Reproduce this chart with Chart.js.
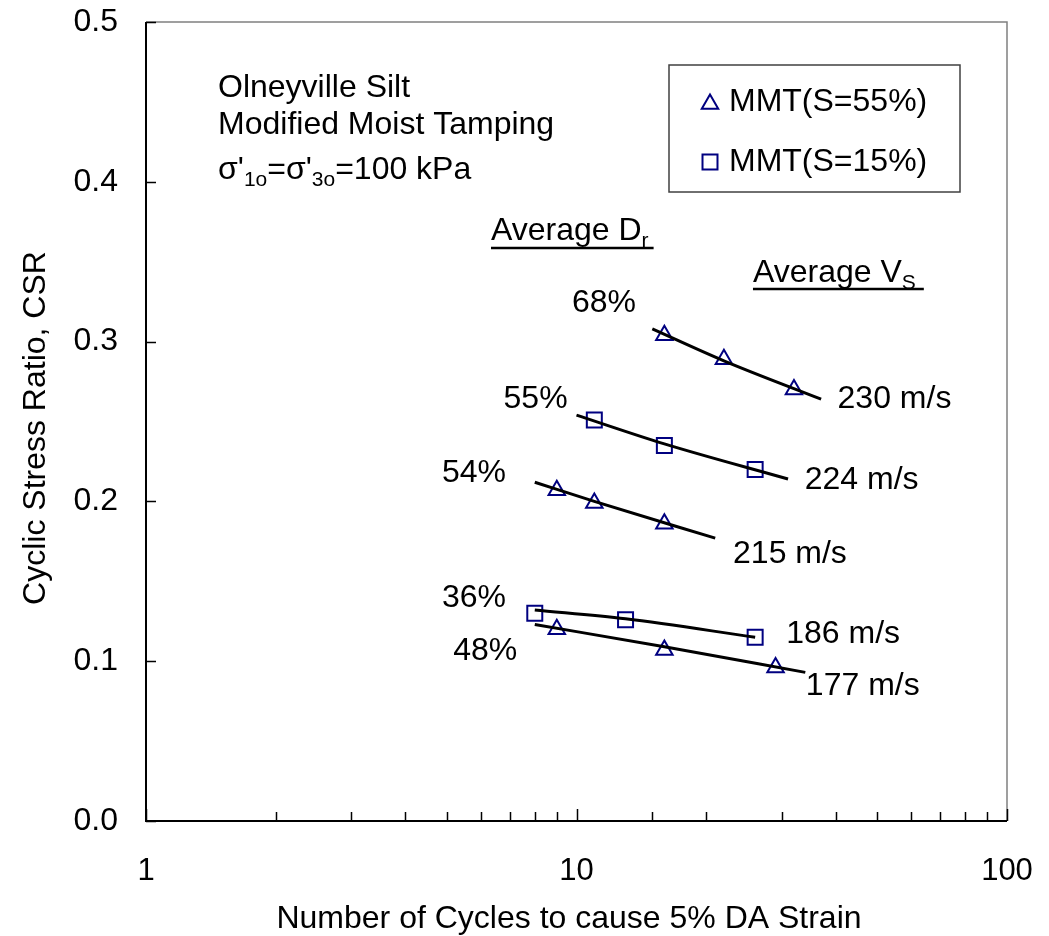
<!DOCTYPE html>
<html>
<head>
<meta charset="utf-8">
<title>Olneyville Silt - CSR vs cycles</title>
<script src="https://cdn.jsdelivr.net/npm/chart.js@4.4.0/dist/chart.umd.min.js"></script>
<style>
  html, body { margin: 0; padding: 0; background: #fff; }
</style>
</head>
<body>
<canvas id="csrChart" width="1049" height="936"></canvas>
<script>
// number of cycles to 5% DA strain (N) and cyclic stress ratio, per specimen group
const n68 = [16, 22, 32];
const csr68 = [0.304, 0.289, 0.270];
const n55 = [11, 16, 26];
const csr55 = [0.251, 0.235, 0.220];
const n54 = [9, 11, 16];
const csr54 = [0.207, 0.199, 0.186];
const n36 = [8, 13, 26];
const csr36 = [0.130, 0.126, 0.115];
const n48 = [9, 16, 29];
const csr48 = [0.120, 0.107, 0.096];

// trend lines through each group (start, middle, end)
const fit68N = [15, 22, 37];
const fit68CSR = [0.308, 0.288, 0.264];
const fit55N = [10, 16, 31];
const fit55CSR = [0.254, 0.236, 0.214];
const fit54N = [8, 11, 21];
const fit54CSR = [0.212, 0.200, 0.177];
const fit36N = [8, 13, 26];
const fit36CSR = [0.132, 0.1265, 0.115];
const fit48N = [8, 16, 34];
const fit48CSR = [0.123, 0.109, 0.093];

const legendLabels = ['MMT(S=55%)', 'MMT(S=15%)'];
const drLabels = ['68%', '55%', '54%', '36%', '48%'];
const vsLabels = ['230 m/s', '224 m/s', '215 m/s', '186 m/s', '177 m/s'];
const xTickLabels = [1, 10, 100];
const noteLines = ['Olneyville Silt', 'Modified Moist Tamping'];

// where the labels sit, in (N, CSR)
const drAt = [[9.76, 0.3185], [6.77, 0.2584], [4.87, 0.2121], [4.87, 0.1339], [5.17, 0.1008]];
const vsAt = [[40.4, 0.2584], [33.9, 0.2078], [23.1, 0.1615], [30.7, 0.1114], [34.1, 0.0788]];
const noteAt = [[1.47, 0.453], [1.47, 0.430], [1.47, 0.402]];
const drHeadAt = [6.33, 0.3636];
const vsHeadAt = [25.7, 0.3373];

const FONT = "'Liberation Sans', Arial, Helvetica, sans-serif";
const NAVY = '#000080';

function pts(xs, ys) {
    return xs.map((x, i) => ({x: x, y: ys[i]}));
}

function fitLine(xs, ys) {
    return {
        data: pts(xs, ys),
        showLine: true,
        borderColor: '#000',
        borderWidth: 3,
        pointRadius: 0,
        cubicInterpolationMode: 'monotone',
        order: 0
    };
}

// draws text made of normal and subscript pieces, returns end x
function richText(ctx, parts, x, y) {
    for (const p of parts) {
        ctx.font = (p.sub ? '21px ' : '32px ') + FONT;
        ctx.fillText(p.t, x, y + (p.sub ? 7 : 0));
        x += ctx.measureText(p.t).width;
    }
    return x;
}

function isDecade(v) {
    return xTickLabels.some(t => Math.abs(t - v) < 1e-6);
}

const decor = {
    id: 'decor',
    beforeDraw(chart) {
        const ctx = chart.ctx;
        ctx.save();
        ctx.fillStyle = '#fff';
        ctx.fillRect(0, 0, chart.width, chart.height);
        ctx.restore();
    },
    beforeDatasetsDraw(chart) {
        const ctx = chart.ctx;
        const a = chart.chartArea;
        const xs = chart.scales.x, ys = chart.scales.y;
        ctx.save();
        ctx.strokeStyle = '#808080';
        ctx.lineWidth = 1.5;
        ctx.beginPath();
        ctx.moveTo(a.left, a.top);
        ctx.lineTo(a.right, a.top);
        ctx.lineTo(a.right, a.bottom);
        ctx.stroke();

        ctx.strokeStyle = '#000';
        ctx.lineWidth = 2;
        ctx.beginPath();
        ctx.moveTo(a.left, a.top);
        ctx.lineTo(a.left, a.bottom);
        ctx.lineTo(a.right, a.bottom);
        ctx.stroke();

        // tick marks point into the plot
        ctx.lineWidth = 1.5;
        ctx.beginPath();
        xs.ticks.forEach(t => {
            const px = Math.round(xs.getPixelForValue(t.value)) + 0.5;
            const len = isDecade(t.value) ? 12 : 9;
            ctx.moveTo(px, a.bottom);
            ctx.lineTo(px, a.bottom - len);
        });
        ys.ticks.forEach(t => {
            const py = Math.round(ys.getPixelForValue(t.value)) + 0.5;
            ctx.moveTo(a.left, py);
            ctx.lineTo(a.left + 10, py);
        });
        ctx.stroke();
        ctx.restore();
    },
    afterDraw(chart) {
        const ctx = chart.ctx;
        const xs = chart.scales.x, ys = chart.scales.y;
        const px = v => xs.getPixelForValue(v);
        const py = v => ys.getPixelForValue(v);
        ctx.save();
        ctx.fillStyle = '#000';
        ctx.textBaseline = 'alphabetic';
        ctx.textAlign = 'left';
        ctx.font = '32px ' + FONT;

        noteLines.forEach((s, i) => ctx.fillText(s, px(noteAt[i][0]), py(noteAt[i][1])));
        richText(ctx, [
            {t: "σ'"}, {t: '1o', sub: true}, {t: "=σ'"}, {t: '3o', sub: true}, {t: '=100 kPa'}
        ], px(noteAt[2][0]), py(noteAt[2][1]));

        ctx.font = '32px ' + FONT;
        drLabels.forEach((s, i) => ctx.fillText(s, px(drAt[i][0]), py(drAt[i][1])));
        vsLabels.forEach((s, i) => ctx.fillText(s, px(vsAt[i][0]), py(vsAt[i][1])));

        // underlined column headings
        ctx.strokeStyle = '#000';
        ctx.lineWidth = 2.5;
        let x0 = px(drHeadAt[0]), y0 = py(drHeadAt[1]);
        let x1 = richText(ctx, [{t: 'Average D'}, {t: 'r', sub: true}], x0, y0);
        ctx.beginPath();
        ctx.moveTo(x0, y0 + 8);
        ctx.lineTo(x1 + 5, y0 + 8);
        ctx.stroke();
        x0 = px(vsHeadAt[0]);
        y0 = py(vsHeadAt[1]);
        x1 = richText(ctx, [{t: 'Average V'}, {t: 'S', sub: true}], x0, y0);
        ctx.beginPath();
        ctx.moveTo(x0, y0 + 7);
        ctx.lineTo(x1 + 8, y0 + 7);
        ctx.stroke();

        // legend
        ctx.strokeStyle = '#404040';
        ctx.lineWidth = 1.5;
        ctx.strokeRect(669, 65, 291, 127);
        const styles = [{pointStyle: 'triangle', radius: 9.5}, {pointStyle: 'rect', radius: 10.6}];
        styles.forEach((st, i) => {
            const ly = 102 + i * 60;
            ctx.strokeStyle = NAVY;
            ctx.fillStyle = 'rgba(0,0,0,0)';
            ctx.lineWidth = 2;
            Chart.helpers.drawPoint(ctx, {pointStyle: st.pointStyle, radius: st.radius, borderWidth: 2, rotation: 0}, 710, ly + (i === 0 ? 2 : 0));
            ctx.fillStyle = '#000';
            ctx.font = '32px ' + FONT;
            ctx.textBaseline = 'middle';
            ctx.fillText(legendLabels[i], 729, ly);
        });

        // axis titles
        ctx.textBaseline = 'alphabetic';
        ctx.textAlign = 'center';
        ctx.font = '32px ' + FONT;
        ctx.fillText('Number of Cycles to cause 5% DA Strain', 569, 928);
        ctx.translate(45, 428);
        ctx.rotate(-Math.PI / 2);
        ctx.fillText('Cyclic Stress Ratio, CSR', 0, 0);
        ctx.restore();
    }
};

Chart.defaults.font.family = FONT;
Chart.defaults.color = '#000';

const csrChart = new Chart(document.getElementById('csrChart'), {
    type: 'scatter',
    data: {
        datasets: [
            {
                label: legendLabels[0],
                data: [...pts(n68, csr68), ...pts(n54, csr54), ...pts(n48, csr48)],
                pointStyle: 'triangle',
                pointRadius: 9.5,
                pointBorderWidth: 2,
                borderColor: NAVY,
                backgroundColor: 'rgba(0,0,0,0)',
                order: 1
            },
            {
                label: legendLabels[1],
                data: [...pts(n55, csr55), ...pts(n36, csr36)],
                pointStyle: 'rect',
                pointRadius: 10.6,
                pointBorderWidth: 2,
                borderColor: NAVY,
                backgroundColor: 'rgba(0,0,0,0)',
                order: 1
            },
            fitLine(fit68N, fit68CSR),
            fitLine(fit55N, fit55CSR),
            fitLine(fit54N, fit54CSR),
            fitLine(fit36N, fit36CSR),
            fitLine(fit48N, fit48CSR)
        ]
    },
    options: {
        responsive: false,
        animation: false,
        layout: {padding: {top: 22, right: 42, bottom: 0, left: 0}},
        plugins: {legend: {display: false}, tooltip: {enabled: false}},
        events: [],
        scales: {
            x: {
                type: 'logarithmic',
                min: 1,
                max: 100,
                // tick marks are drawn by the plugin; tickLength only spaces the labels
                grid: {display: false, drawTicks: true, tickLength: 32},
                border: {display: false},
                ticks: {
                    autoSkip: false,
                    maxRotation: 0,
                    padding: 0,
                    font: {size: 31},
                    callback: v => isDecade(v) ? String(v) : ''
                },
                afterFit(scale) { scale.height = 115; }
            },
            y: {
                min: 0,
                max: 0.5,
                grid: {display: false, drawTicks: true, tickLength: 28},
                border: {display: false},
                ticks: {
                    stepSize: 0.1,
                    padding: 0,
                    font: {size: 32},
                    callback: v => v.toFixed(1)
                },
                afterFit(scale) { scale.width = 146; }
            }
        }
    },
    plugins: [decor]
});
</script>
</body>
</html>
